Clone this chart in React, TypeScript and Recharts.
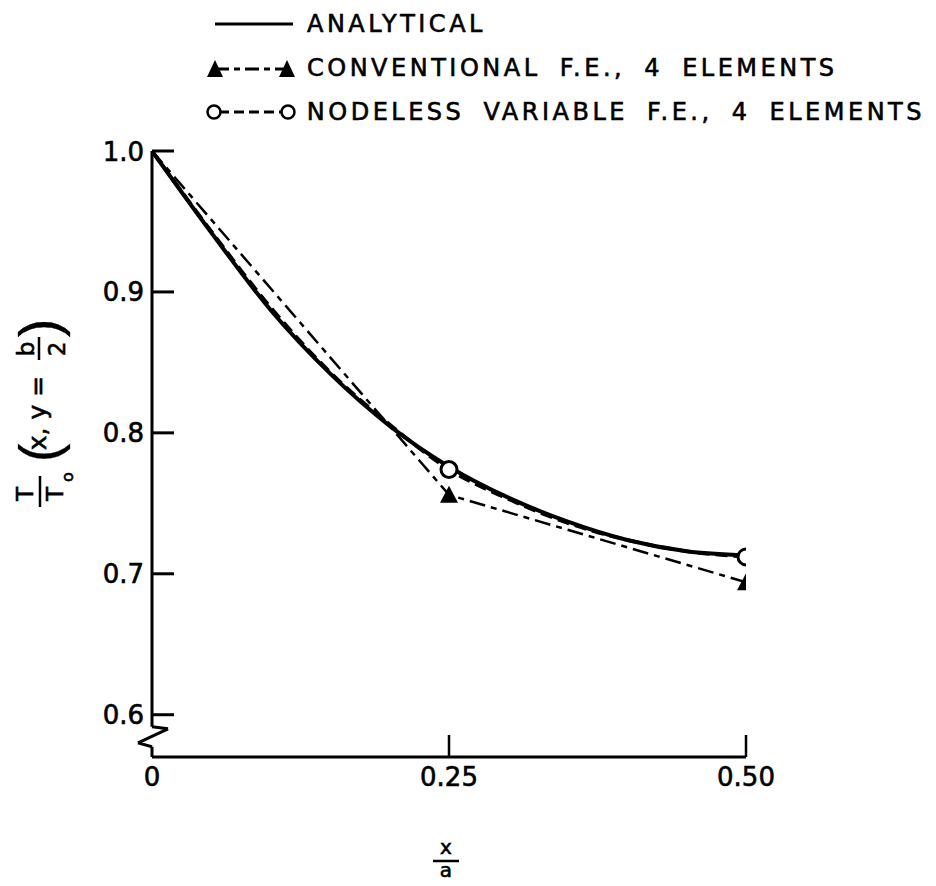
import React from 'react'
import { LineChart, Line, XAxis, YAxis, ReferenceLine, Legend, Label } from 'recharts'

// x / a positions used for the curves
const gridX = [0, 0.05, 0.1, 0.15, 0.2, 0.25, 0.3, 0.35, 0.4, 0.45, 0.5]
const analytical = [1.0, 0.942, 0.887, 0.842, 0.805, 0.776, 0.754, 0.737, 0.724, 0.716, 0.713]
const nodeless = [1.0, 0.943, 0.889, 0.843, 0.806, 0.774, 0.753, 0.736, 0.724, 0.716, 0.712]

// conventional F.E. nodes
const convX = [0, 0.25, 0.5]
const conventional = [1.0, 0.756, 0.694]

// nodes that carry a symbol
const markedNodes = [0.25, 0.5]

const xTicks = [0, 0.25, 0.5]
const xTickLabels = ['0', '0.25', '0.50']
const yTicks = [0.6, 0.7, 0.8, 0.9, 1.0]
const yTickLabels = ['0.6', '0.7', '0.8', '0.9', '1.0']

const legendLabels = ['ANALYTICAL', 'CONVENTIONAL F.E., 4 ELEMENTS', 'NODELESS VARIABLE F.E., 4 ELEMENTS']

const analyticalData = gridX.map((x, i) => ({ x, t: analytical[i] }))
const nodelessData = gridX.map((x, i) => ({ x, t: nodeless[i] }))
const conventionalData = convX.map((x, i) => ({ x, t: conventional[i] }))

const FONT = '"DejaVu Sans", sans-serif'
const INK = '#000'
const BOLDEN = { stroke: INK, strokeWidth: 0.6 }

const YTick = (props: any) => {
  const { x, y, index } = props
  return (
    <g>
      <line x1={x} x2={x + 22} y1={y} y2={y} stroke={INK} strokeWidth={3} />
      <text x={x - 8} y={y} dy={9.5} textAnchor="end" fontSize={26} fontFamily={FONT} fill={INK} {...BOLDEN}>
        {yTickLabels[index]}
      </text>
    </g>
  )
}

const XTick = (props: any) => {
  const { x, y, index } = props
  return (
    <g>
      {index > 0 && <line x1={x} x2={x} y1={y} y2={y - 22} stroke={INK} strokeWidth={2.5} />}
      <text x={x} y={y + 29} textAnchor="middle" fontSize={26} fontFamily={FONT} fill={INK} {...BOLDEN}>
        {xTickLabels[index]}
      </text>
    </g>
  )
}

const TriangleDot = (p: any) => {
  const { cx, cy, payload } = p
  if (!markedNodes.includes(payload.x)) return <g key={p.key} />
  return <path key={p.key} d={`M${cx - 9},${cy + 8} L${cx},${cy - 9} L${cx + 9},${cy + 8} Z`} fill={INK} />
}

const CircleDot = (p: any) => {
  const { cx, cy, payload } = p
  if (!markedNodes.includes(payload.x)) return <g key={p.key} />
  return <circle key={p.key} cx={cx} cy={cy} r={8} fill="#fff" stroke={INK} strokeWidth={3} />
}

// T/T0 (x, y = b/2), written bottom to top
const YLabel = () => (
  <g transform="translate(32,406) rotate(-90)" fontFamily={FONT} fill={INK} {...BOLDEN}>
    <text x={-80} y={-7} textAnchor="middle" fontSize={23}>T</text>
    <line x1={-93} x2={-62} y1={0} y2={0} stroke={INK} strokeWidth={2.5} />
    <text x={-80} y={23} textAnchor="middle" fontSize={23}>T</text>
    <text x={-63} y={33} textAnchor="middle" fontSize={16}>o</text>
    <text x={-39} y={18} textAnchor="middle" fontSize={56} fontFamily="Liberation Sans" strokeWidth={0.3}>(</text>
    <text x={1} y={6} textAnchor="middle" fontSize={25}>x, y =</text>
    <text x={65} y={-6} textAnchor="middle" fontSize={23}>b</text>
    <line x1={54} x2={77} y1={-1} y2={-1} stroke={INK} strokeWidth={2.5} />
    <text x={65} y={25} textAnchor="middle" fontSize={23}>2</text>
    <text x={86} y={18} textAnchor="middle" fontSize={56} fontFamily="Liberation Sans" strokeWidth={0.3}>)</text>
  </g>
)

const XLabel = () => (
  <g fontFamily={FONT} fill={INK} {...BOLDEN}>
    <text x={438} y={846} textAnchor="middle" fontSize={20}>x</text>
    <line x1={425} x2={451} y1={853} y2={853} stroke={INK} strokeWidth={2.5} />
    <text x={438} y={869} textAnchor="middle" fontSize={20}>a</text>
  </g>
)

const LegendIcon = ({ kind }: { kind: number }) => (
  <svg width={92} height={26} style={{ display: 'block' }}>
    {kind === 0 && <line x1={10} x2={88} y1={13} y2={13} stroke={INK} strokeWidth={3} />}
    {kind === 1 && (
      <g>
        <line x1={10} x2={82} y1={14} y2={14} stroke={INK} strokeWidth={3} strokeDasharray="14 5 6 5" />
        <path d="M2,22 L10,5 L18,22 Z" fill={INK} />
        <path d="M74,22 L82,5 L90,22 Z" fill={INK} />
      </g>
    )}
    {kind === 2 && (
      <g>
        <line x1={14} x2={78} y1={13} y2={13} stroke={INK} strokeWidth={3} strokeDasharray="10 5" />
        <circle cx={9} cy={13} r={6.5} fill="#fff" stroke={INK} strokeWidth={2.5} />
        <circle cx={83} cy={13} r={6.5} fill="#fff" stroke={INK} strokeWidth={2.5} />
      </g>
    )}
  </svg>
)

const LegendBox = () => (
  <div style={{ fontFamily: FONT, color: INK }}>
    {legendLabels.map((label, i) => (
      <div key={label} style={{ display: 'flex', alignItems: 'center', height: 44 }}>
        <LegendIcon kind={i} />
        <span
          style={{
            marginLeft: 10,
            fontSize: 24,
            letterSpacing: 3.5,
            wordSpacing: 8,
            whiteSpace: 'nowrap',
            WebkitTextStroke: '0.6px #000',
          }}
        >
          {label}
        </span>
      </div>
    ))}
  </div>
)

export default function App() {
  return (
    <div style={{ width: 920, height: 870, background: '#fff' }}>
      <LineChart
        width={920}
        height={878}
        margin={{ top: 143, right: 182, bottom: 89, left: 84 }}
      >
        <XAxis
          type="number"
          dataKey="x"
          domain={[0, 0.5]}
          ticks={xTicks}
          allowDataOverflow
          axisLine={{ stroke: INK, strokeWidth: 3 }}
          tickLine={false}
          tickSize={0}
          tickMargin={0}
          tick={(p: any) => <XTick {...p} />}
          height={40}
        >
          <Label content={() => <XLabel />} />
        </XAxis>
        <YAxis
          type="number"
          domain={[0.57, 1.0]}
          ticks={yTicks}
          allowDataOverflow
          axisLine={false}
          tickLine={false}
          tickSize={0}
          tickMargin={0}
          tick={(p: any) => <YTick {...p} />}
          width={60}
        >
          <Label content={() => <YLabel />} />
        </YAxis>

        {/* y axis with break symbol */}
        <ReferenceLine segment={[{ x: 0, y: 1.0 }, { x: 0, y: 0.5915 }]} stroke={INK} strokeWidth={3} ifOverflow="visible" />
        <ReferenceLine segment={[{ x: 0, y: 0.5915 }, { x: 0.0135, y: 0.59 }]} stroke={INK} strokeWidth={3} ifOverflow="visible" />
        <ReferenceLine segment={[{ x: 0.0135, y: 0.59 }, { x: -0.0118, y: 0.58 }]} stroke={INK} strokeWidth={3} ifOverflow="visible" />
        <ReferenceLine segment={[{ x: -0.0118, y: 0.58 }, { x: 0, y: 0.5773 }]} stroke={INK} strokeWidth={3} ifOverflow="visible" />
        <ReferenceLine segment={[{ x: 0, y: 0.5773 }, { x: 0, y: 0.57 }]} stroke={INK} strokeWidth={3} ifOverflow="visible" />

        <Line
          data={conventionalData}
          dataKey="t"
          type="linear"
          stroke={INK}
          strokeWidth={2.5}
          strokeDasharray="16 6 6 6"
          dot={TriangleDot}
          activeDot={false}
          isAnimationActive={false}
        />
        <Line
          data={analyticalData}
          dataKey="t"
          type="monotone"
          stroke={INK}
          strokeWidth={4}
          dot={false}
          activeDot={false}
          isAnimationActive={false}
        />
        <Line
          data={nodelessData}
          dataKey="t"
          type="monotone"
          stroke={INK}
          strokeWidth={3.5}
          strokeDasharray="12 6"
          dot={CircleDot}
          activeDot={false}
          isAnimationActive={false}
        />
        <Legend
          layout="horizontal"
          verticalAlign="middle"
          align="center"
          wrapperStyle={{ top: -6, left: 197, width: 720, height: 132 }}
          content={() => <LegendBox />}
        />
      </LineChart>
    </div>
  )
}
